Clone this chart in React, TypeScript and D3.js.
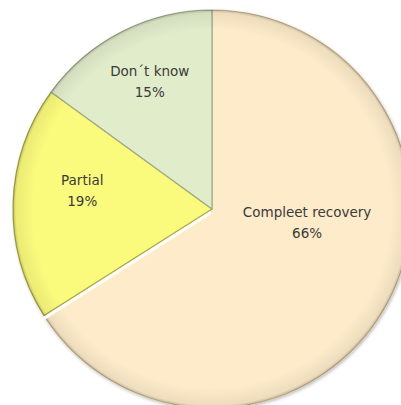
import React from "react";
import * as d3 from "d3";

const categories = ["Compleet recovery", "Partial", "Don´t know"];
const values = [66, 19, 15];
const colors = ["#FDEBC9", "#FAFA7D", "#E1ECCB"];
const edgeColors = ["#C9B48E", "#A9AA4A", "#9FAA88"];

const W = 401;
const H = 405;
const cx = 212;
const cy = 209;
const R = 199;

// label placement (polar, degrees clockwise from top)
const labelLayout: Record<string, { a: number; r: number }> = {
  "Compleet recovery": { a: 98, r: 96 },
  Partial: { a: 278, r: 131 },
  "Don´t know": { a: 334, r: 142 },
};

export default function App() {
  const pie = d3.pie<number>().sort(null).value((d) => d);
  const arcs = pie(values);
  const arc = d3.arc<d3.PieArcDatum<number>>().innerRadius(0).outerRadius(R);
  const total = d3.sum(values);

  const boundary = arcs[0].endAngle;
  const bx = Math.sin(boundary) * R;
  const by = -Math.cos(boundary) * R;

  return (
    <svg
      width={W}
      height={H}
      style={{ position: "absolute", left: 0, top: 0, background: "#fff" }}
    >
      <defs>
        <radialGradient id="rim" cx="0.5" cy="0.5" r="0.5">
          <stop offset="0.9" stopColor="#000" stopOpacity="0" />
          <stop offset="0.985" stopColor="#000" stopOpacity="0.06" />
          <stop offset="1" stopColor="#000" stopOpacity="0.22" />
        </radialGradient>
        <filter id="shadow" x="-10%" y="-10%" width="120%" height="120%">
          <feDropShadow dx="1" dy="1.5" stdDeviation="1.5" floodColor="#000" floodOpacity="0.25" />
        </filter>
      </defs>
      <g transform={`translate(${cx},${cy})`}>
        <g filter="url(#shadow)">
          {arcs.map((a, i) => (
            <path
              key={categories[i]}
              d={arc(a) || ""}
              fill={colors[i]}
              stroke={edgeColors[i]}
              strokeWidth={1.2}
              strokeLinejoin="round"
            />
          ))}
        </g>
        <circle r={R} fill="url(#rim)" />
        <line
          x1={Math.sin(boundary) * 3}
          y1={-Math.cos(boundary) * 3}
          x2={bx * 1.01}
          y2={by * 1.01}
          stroke="#FFFDF6"
          strokeWidth={3.2}
          transform="translate(1.3,2)"
        />
        {arcs.map((a, i) => {
          const lay = labelLayout[categories[i]];
          const ang = (lay.a * Math.PI) / 180;
          const x = Math.sin(ang) * lay.r;
          const y = -Math.cos(ang) * lay.r;
          const pct = Math.round((values[i] / total) * 100);
          return (
            <text
              key={"l" + i}
              x={x}
              y={y}
              textAnchor="middle"
              fontFamily="DejaVu Sans, sans-serif"
              fontSize={13.5}
              fill="#3a3a3a"
            >
              <tspan x={x} dy={-5.5}>{categories[i]}</tspan>
              <tspan x={x} dy={21}>{pct + "%"}</tspan>
            </text>
          );
        })}
      </g>
    </svg>
  );
}
